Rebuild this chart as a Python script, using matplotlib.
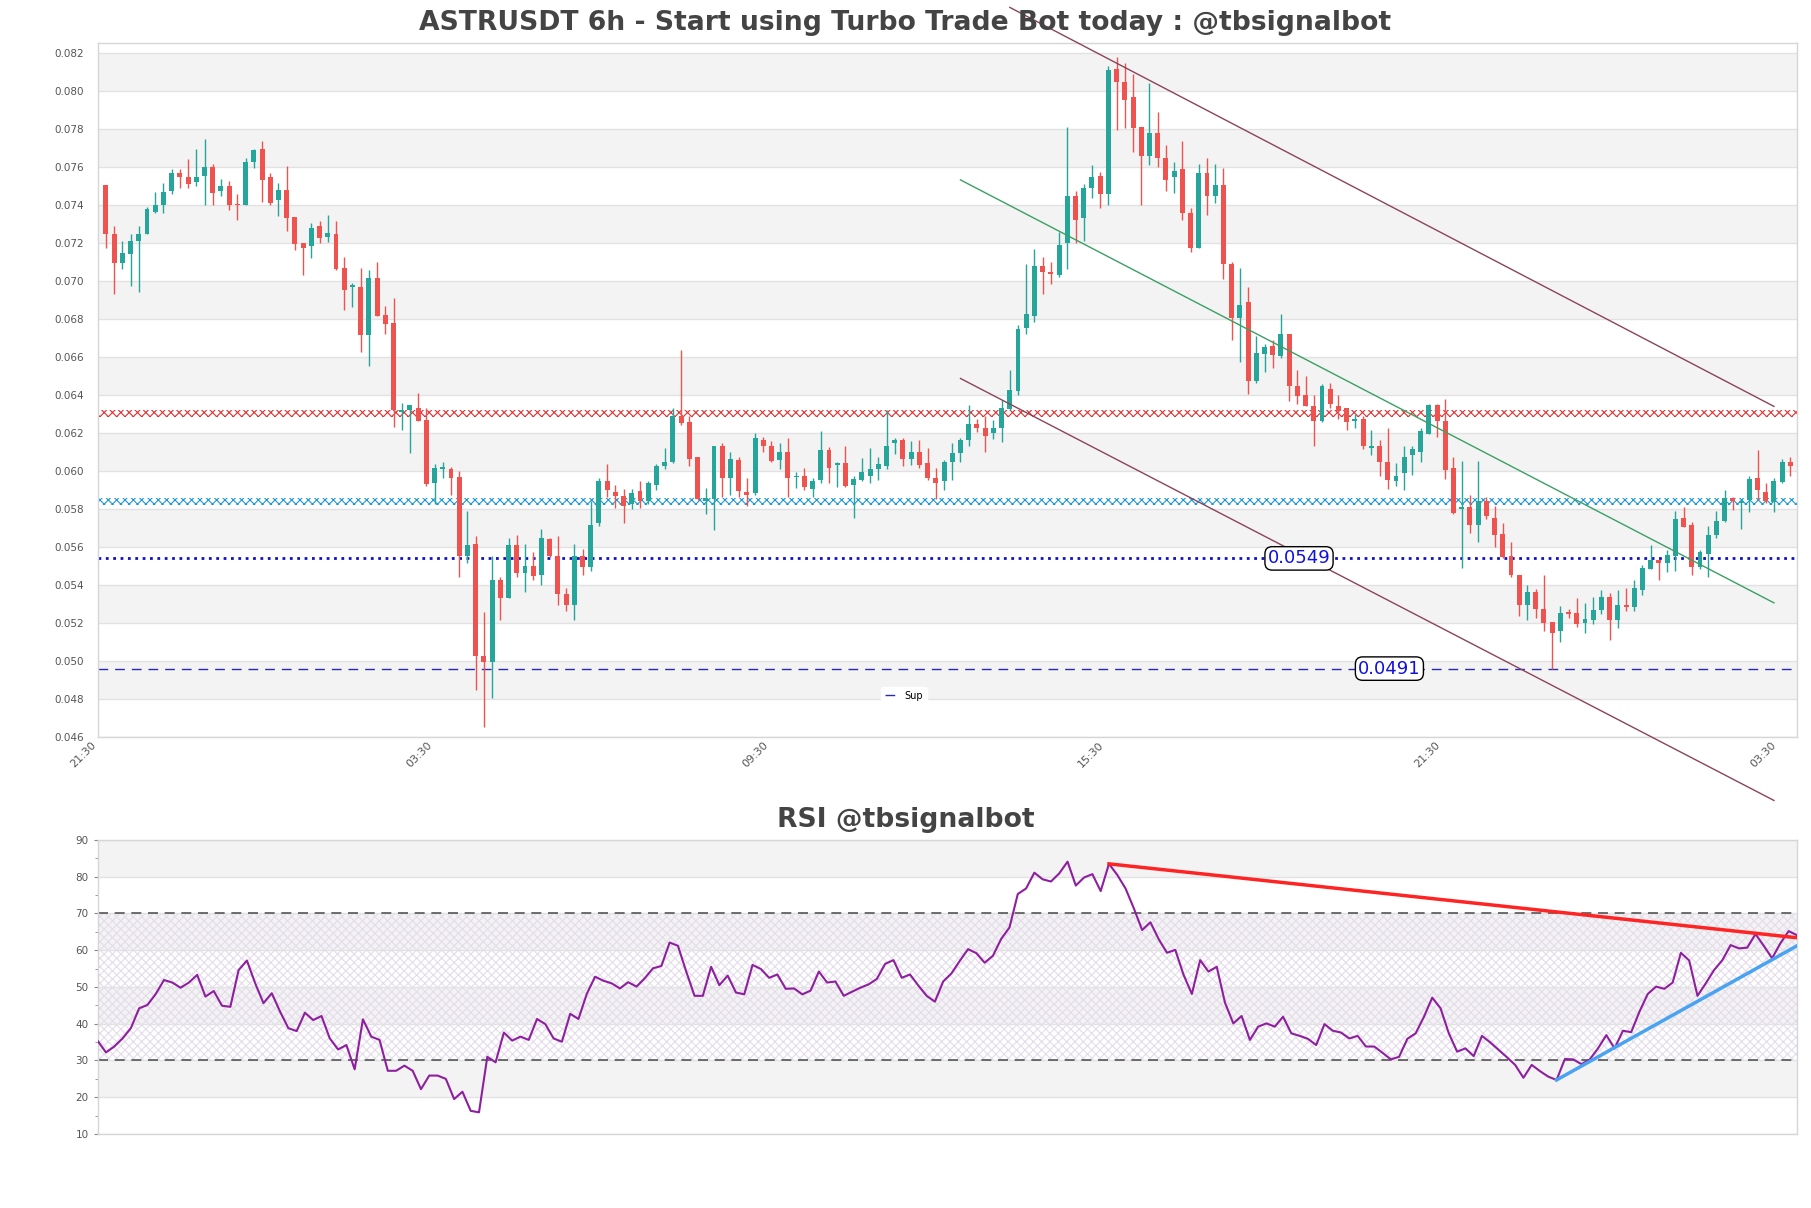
import matplotlib
matplotlib.use("Agg")
import matplotlib.pyplot as plt
import numpy as np

# ── Data ─────────────────────────────────────────────────────────────────────

opens = [
    0.07504, 0.07247, 0.07096, 0.07144, 0.07209, 0.07247, 0.07362, 0.07398, 0.07475, 0.07569,
    0.07546, 0.07522, 0.07553, 0.07600, 0.07475, 0.07501, 0.07405, 0.07398, 0.07624, 0.07694,
    0.07548, 0.07424, 0.07480, 0.07336, 0.07200, 0.07186, 0.07289, 0.07233, 0.07247, 0.07068,
    0.06967, 0.06967, 0.06718, 0.07016, 0.06821, 0.06779, 0.06308, 0.06322, 0.06334, 0.06268,
    0.05936, 0.06009, 0.06009, 0.05969, 0.05553, 0.05616, 0.05028, 0.04993, 0.05428, 0.05329,
    0.05609, 0.05464, 0.05499, 0.05452, 0.05640, 0.05553, 0.05353, 0.05294, 0.05553, 0.05494,
    0.05727, 0.05946, 0.05887, 0.05868, 0.05828, 0.05894, 0.05840, 0.05927, 0.06028, 0.06045,
    0.06292, 0.06259, 0.06075, 0.05840, 0.05852, 0.06134, 0.05962, 0.06056, 0.05887, 0.05882,
    0.06165, 0.06130, 0.06056, 0.06099, 0.05969, 0.05976, 0.05906, 0.05950, 0.06111, 0.06033,
    0.06040, 0.05927, 0.05950, 0.05974, 0.06009, 0.06028, 0.06146, 0.06165, 0.06064, 0.06099,
    0.06040, 0.05965, 0.05946, 0.06045, 0.06096, 0.06165, 0.06247, 0.06228, 0.06198, 0.06228,
    0.06327, 0.06421, 0.06750, 0.06816, 0.07080, 0.07047, 0.07033, 0.07198, 0.07447, 0.07334,
    0.07492, 0.07551, 0.07456, 0.08115, 0.08047, 0.07969, 0.07809, 0.07656, 0.07781, 0.07647,
    0.07546, 0.07588, 0.07358, 0.07174, 0.07569, 0.07447, 0.07506, 0.07092, 0.06805, 0.06887,
    0.06475, 0.06616, 0.06656, 0.06605, 0.06722, 0.06445, 0.06398, 0.06341, 0.06264, 0.06433,
    0.06341, 0.06329, 0.06264, 0.06275, 0.06122, 0.06129, 0.06047, 0.05946, 0.05988, 0.06082,
    0.06099, 0.06193, 0.06346, 0.06264, 0.06016, 0.05798, 0.05809, 0.05715, 0.05840, 0.05753,
    0.05668, 0.05550, 0.05452, 0.05294, 0.05365, 0.05275, 0.05205, 0.05158, 0.05256, 0.05252,
    0.05198, 0.05216, 0.05270, 0.05339, 0.05216, 0.05294, 0.05282, 0.05376, 0.05482, 0.05530,
    0.05518, 0.05553, 0.05753, 0.05718, 0.05494, 0.05562, 0.05664, 0.05739, 0.05856, 0.05833,
    0.05845, 0.05962, 0.05887, 0.05835, 0.05941, 0.06045,
]
highs = [
    0.07504, 0.07287, 0.07209, 0.07247, 0.07287, 0.07388, 0.07468, 0.07515, 0.07588, 0.07588,
    0.07640, 0.07696, 0.07748, 0.07616, 0.07536, 0.07527, 0.07459, 0.07649, 0.07696, 0.07739,
    0.07569, 0.07515, 0.07607, 0.07336, 0.07200, 0.07306, 0.07315, 0.07346, 0.07315, 0.07127,
    0.06988, 0.07068, 0.07059, 0.07099, 0.06868, 0.06911, 0.06358, 0.06346, 0.06409, 0.06332,
    0.06035, 0.06047, 0.06021, 0.05998, 0.05788, 0.05659, 0.05256, 0.05553, 0.05440, 0.05645,
    0.05664, 0.05616, 0.05574, 0.05696, 0.05645, 0.05659, 0.05386, 0.05616, 0.05588, 0.05840,
    0.05965, 0.06035, 0.05927, 0.05904, 0.05906, 0.05946, 0.05946, 0.06035, 0.06122, 0.06332,
    0.06635, 0.06292, 0.06075, 0.05911, 0.06134, 0.06146, 0.06099, 0.06075, 0.05965, 0.06198,
    0.06181, 0.06158, 0.06146, 0.06174, 0.05993, 0.06016, 0.05962, 0.06209, 0.06127, 0.06047,
    0.06134, 0.05974, 0.06070, 0.06122, 0.06075, 0.06322, 0.06174, 0.06174, 0.06158, 0.06165,
    0.06122, 0.06016, 0.06059, 0.06146, 0.06174, 0.06346, 0.06275, 0.06292, 0.06268, 0.06374,
    0.06534, 0.06769, 0.07087, 0.07169, 0.07127, 0.07099, 0.07259, 0.07809, 0.07475, 0.07511,
    0.07612, 0.07574, 0.08129, 0.08181, 0.08146, 0.08087, 0.07809, 0.08040, 0.07892, 0.07718,
    0.07628, 0.07739, 0.07386, 0.07616, 0.07645, 0.07616, 0.07593, 0.07099, 0.07068, 0.06969,
    0.06711, 0.06668, 0.06687, 0.06824, 0.06722, 0.06534, 0.06499, 0.06398, 0.06456, 0.06464,
    0.06402, 0.06334, 0.06299, 0.06287, 0.06216, 0.06165, 0.06228, 0.06040, 0.06134, 0.06129,
    0.06228, 0.06350, 0.06350, 0.06381, 0.06075, 0.06052, 0.05875, 0.06052, 0.05864, 0.05816,
    0.05727, 0.05628, 0.05452, 0.05400, 0.05381, 0.05452, 0.05205, 0.05287, 0.05275, 0.05329,
    0.05306, 0.05339, 0.05376, 0.05358, 0.05376, 0.05386, 0.05428, 0.05504, 0.05609, 0.05530,
    0.05586, 0.05788, 0.05809, 0.05734, 0.05586, 0.05711, 0.05788, 0.05899, 0.05864, 0.05840,
    0.05976, 0.06111, 0.05939, 0.05962, 0.06064, 0.06075,
]
lows = [
    0.07176, 0.06934, 0.07064, 0.06976, 0.06944, 0.07247, 0.07358, 0.07358, 0.07456, 0.07487,
    0.07487, 0.07499, 0.07402, 0.07398, 0.07445, 0.07376, 0.07322, 0.07398, 0.07595, 0.07414,
    0.07398, 0.07344, 0.07264, 0.07165, 0.07033, 0.07122, 0.07198, 0.07205, 0.07056, 0.06845,
    0.06864, 0.06624, 0.06553, 0.06816, 0.06722, 0.06233, 0.06216, 0.06096, 0.06264, 0.05922,
    0.05828, 0.05965, 0.05875, 0.05440, 0.05518, 0.04847, 0.04652, 0.04805, 0.05216, 0.05329,
    0.05440, 0.05365, 0.05428, 0.05400, 0.05546, 0.05294, 0.05264, 0.05216, 0.05452, 0.05475,
    0.05711, 0.05864, 0.05805, 0.05727, 0.05800, 0.05805, 0.05828, 0.05899, 0.06009, 0.06040,
    0.06240, 0.06028, 0.05847, 0.05774, 0.05687, 0.05864, 0.05875, 0.05864, 0.05816, 0.05875,
    0.06099, 0.06045, 0.06012, 0.05864, 0.05911, 0.05899, 0.05864, 0.05939, 0.05939, 0.05915,
    0.05915, 0.05753, 0.05946, 0.05939, 0.05953, 0.06012, 0.06087, 0.06028, 0.06033, 0.06016,
    0.05953, 0.05852, 0.05899, 0.05953, 0.06045, 0.06134, 0.06205, 0.06099, 0.06170, 0.06150,
    0.06322, 0.06398, 0.06722, 0.06786, 0.06934, 0.06986, 0.07021, 0.07064, 0.07198, 0.07212,
    0.07435, 0.07386, 0.07400, 0.07793, 0.07805, 0.07680, 0.07400, 0.07612, 0.07598, 0.07475,
    0.07464, 0.07322, 0.07155, 0.07174, 0.07346, 0.07409, 0.07012, 0.06687, 0.06576, 0.06405,
    0.06464, 0.06522, 0.06541, 0.06593, 0.06370, 0.06350, 0.06341, 0.06129, 0.06256, 0.06334,
    0.06275, 0.06216, 0.06228, 0.06118, 0.06082, 0.05974, 0.05906, 0.05922, 0.05899, 0.05981,
    0.06045, 0.06193, 0.06181, 0.05958, 0.05776, 0.05487, 0.05675, 0.05628, 0.05746, 0.05598,
    0.05541, 0.05440, 0.05235, 0.05216, 0.05224, 0.05158, 0.04958, 0.05099, 0.05224, 0.05181,
    0.05146, 0.05193, 0.05247, 0.05111, 0.05174, 0.05264, 0.05264, 0.05346, 0.05482, 0.05424,
    0.05471, 0.05475, 0.05706, 0.05452, 0.05482, 0.05440, 0.05645, 0.05734, 0.05793, 0.05694,
    0.05786, 0.05845, 0.05833, 0.05786, 0.05939, 0.05974,
]
closes = [
    0.07245, 0.07096, 0.07146, 0.07209, 0.07247, 0.07379, 0.07398, 0.07468, 0.07569, 0.07546,
    0.07511, 0.07546, 0.07600, 0.07464, 0.07501, 0.07400, 0.07398, 0.07626, 0.07690, 0.07534,
    0.07412, 0.07480, 0.07334, 0.07195, 0.07176, 0.07280, 0.07224, 0.07250, 0.07064, 0.06955,
    0.06981, 0.06718, 0.07016, 0.06816, 0.06776, 0.06322, 0.06322, 0.06346, 0.06264, 0.05932,
    0.06016, 0.06021, 0.05962, 0.05553, 0.05609, 0.05028, 0.04993, 0.05428, 0.05329, 0.05609,
    0.05464, 0.05499, 0.05447, 0.05645, 0.05553, 0.05353, 0.05294, 0.05553, 0.05494, 0.05718,
    0.05946, 0.05899, 0.05868, 0.05816, 0.05882, 0.05840, 0.05939, 0.06028, 0.06045, 0.06292,
    0.06252, 0.06064, 0.05852, 0.05856, 0.06134, 0.05962, 0.06064, 0.05894, 0.05875, 0.06174,
    0.06134, 0.06052, 0.06099, 0.05962, 0.05976, 0.05915, 0.05946, 0.06111, 0.06016, 0.06040,
    0.05922, 0.05958, 0.05993, 0.06012, 0.06035, 0.06134, 0.06165, 0.06064, 0.06099, 0.06033,
    0.05962, 0.05939, 0.06047, 0.06096, 0.06165, 0.06247, 0.06228, 0.06186, 0.06228, 0.06334,
    0.06424, 0.06746, 0.06824, 0.07080, 0.07045, 0.07035, 0.07188, 0.07447, 0.07322, 0.07487,
    0.07546, 0.07456, 0.08111, 0.08045, 0.07953, 0.07805, 0.07656, 0.07781, 0.07645, 0.07534,
    0.07579, 0.07358, 0.07174, 0.07569, 0.07447, 0.07506, 0.07087, 0.06805, 0.06875, 0.06475,
    0.06621, 0.06652, 0.06609, 0.06722, 0.06445, 0.06393, 0.06341, 0.06264, 0.06447, 0.06350,
    0.06318, 0.06256, 0.06275, 0.06129, 0.06134, 0.06045, 0.05953, 0.05976, 0.06075, 0.06115,
    0.06212, 0.06346, 0.06264, 0.06005, 0.05781, 0.05809, 0.05715, 0.05840, 0.05762, 0.05664,
    0.05546, 0.05452, 0.05294, 0.05365, 0.05275, 0.05198, 0.05146, 0.05252, 0.05247, 0.05193,
    0.05221, 0.05268, 0.05339, 0.05216, 0.05294, 0.05282, 0.05386, 0.05487, 0.05534, 0.05518,
    0.05558, 0.05746, 0.05706, 0.05494, 0.05574, 0.05664, 0.05739, 0.05856, 0.05840, 0.05840,
    0.05958, 0.05899, 0.05840, 0.05946, 0.06045, 0.06028,
]

rsi = [
    35.3, 32.2, 33.8, 36.0, 38.8, 44.2, 45.1, 48.1, 51.9, 51.2,
    49.8, 51.2, 53.3, 47.4, 48.9, 44.9, 44.6, 54.6, 57.2, 51.0,
    45.6, 48.3, 43.3, 38.8, 38.0, 43.0, 41.0, 42.1, 36.0, 33.0,
    34.2, 27.6, 41.2, 36.5, 35.6, 27.2, 27.2, 28.6, 27.2, 22.2,
    25.9, 25.9, 25.0, 19.5, 21.5, 16.3, 15.9, 31.0, 29.5, 37.6,
    35.4, 36.5, 35.6, 41.3, 39.9, 36.0, 35.1, 42.7, 41.3, 48.1,
    52.8, 51.7, 51.0, 49.6, 51.3, 50.1, 52.4, 55.1, 55.7, 62.1,
    61.2, 54.2, 47.6, 47.6, 55.5, 50.5, 53.1, 48.5, 48.0, 56.0,
    54.9, 52.5, 53.4, 49.5, 49.6, 48.0, 49.0, 54.2, 51.2, 51.5,
    47.6, 48.7, 49.8, 50.7, 52.2, 56.3, 57.3, 52.5, 53.4, 50.4,
    47.6, 46.0, 51.5, 53.7, 57.1, 60.3, 59.2, 56.6, 58.5, 63.1,
    66.2, 75.3, 76.8, 81.1, 79.3, 78.7, 80.9, 84.1, 77.6, 79.8,
    80.7, 76.1, 83.5, 80.5, 76.8, 71.4, 65.5, 67.6, 63.0, 59.3,
    60.1, 53.3, 48.1, 57.3, 54.2, 55.5, 45.7, 40.1, 42.1, 35.6,
    39.2, 40.1, 39.2, 41.9, 37.4, 36.7, 35.9, 34.2, 39.9, 38.1,
    37.6, 36.0, 36.7, 33.8, 33.8, 32.1, 30.3, 31.0, 35.9, 37.4,
    41.9, 47.1, 44.2, 37.4, 32.4, 33.3, 31.2, 36.7, 34.9, 32.9,
    30.9, 28.8, 25.3, 28.8, 27.1, 25.6, 24.7, 30.4, 30.3, 29.0,
    30.3, 33.3, 36.9, 33.3, 38.1, 37.7, 43.3, 48.1, 50.1, 49.5,
    51.2, 59.3, 57.2, 47.6, 51.0, 54.6, 57.3, 61.4, 60.5, 60.7,
    64.4, 61.2, 57.8, 61.9, 65.2, 64.1,
]

TIME_LABELS = ["21:30", "03:30", "09:30", "15:30", "21:30", "03:30"]

# zones / levels
RES_ZONE = (0.06285, 0.06323)
SUP_ZONE = (0.05820, 0.05856)
LEVEL_MID, LEVEL_MID_TXT = 0.0554, "0.0549"
LEVEL_SUP, LEVEL_SUP_TXT = 0.0496, "0.0491"

# channel lines (candle index, price)
CH_UPPER_X, CH_UPPER_Y = [110, 203], [0.0844, 0.0634]
CH_LOWER_X, CH_LOWER_Y = [104, 203], [0.06487, 0.04266]
CH_MID_X, CH_MID_Y = [104, 203], [0.07532, 0.05306]

# RSI trend lines
RSI_RES_X, RSI_RES_Y = [122, 205], [83.5, 63.4]
RSI_SUP_X, RSI_SUP_Y = [176, 205], [24.7, 61.2]

GREEN = "#26a69a"
RED = "#ef5350"
TXT = "#444444"
GRID = "#e2e2e2"
BAND = "#f3f3f3"

plt.rcParams["hatch.linewidth"] = 0.8


def band_bg(ax, lo, hi, step):
    ticks = np.arange(lo, hi + step / 2, step)
    for k in range(len(ticks) - 1):
        if (len(ticks) - 2 - k) % 2 == 0:
            ax.axhspan(ticks[k], ticks[k + 1], color=BAND, lw=0, zorder=0)
    ax.set_yticks(ticks)
    ax.grid(axis="y", color=GRID, lw=1, zorder=0.5)


def style_spines(ax):
    for s in ax.spines.values():
        s.set_color("#d6d6d6")
        s.set_linewidth(1)


def main():
    n = len(closes)
    x = np.arange(n)
    o = np.array(opens); h = np.array(highs); l = np.array(lows); c = np.array(closes)
    up = c >= o
    cols = np.where(up, GREEN, RED)

    fig = plt.figure(figsize=(18.11, 12.08), dpi=100)

    # ── Price panel ───────────────────────────────────────────────────────────
    ax = fig.add_axes([0.05395, 0.3899, 0.9383, 0.5741])
    band_bg(ax, 0.046, 0.082, 0.002)
    ax.set_ylim(0.046, 0.0825)
    ax.set_xlim(-0.9, 205.8)

    ax.vlines(x, l, h, colors=cols, lw=1.0, zorder=3)
    body = np.maximum(np.abs(c - o), 0.00003)
    ax.bar(x, body, bottom=np.minimum(o, c), width=0.6, color=cols, lw=0, zorder=4)

    ax.axhspan(*RES_ZONE, fill=False, hatch="xxxx", edgecolor="#e03030", lw=0, zorder=2)
    ax.axhspan(*SUP_ZONE, fill=False, hatch="xxxx", edgecolor="#1e96d6", lw=0, zorder=2)

    ax.axhline(LEVEL_MID, color="#1010c8", ls=":", lw=2, zorder=2)
    ax.axhline(LEVEL_SUP, color="#2a2ab0", ls=(0, (7, 5)), lw=1, zorder=2, label="Sup")
    box = dict(boxstyle="round,pad=0.15,rounding_size=0.4", fc="white", ec="black", lw=1)
    ax.text(145.2, LEVEL_MID, LEVEL_MID_TXT, color="#1010e0", fontsize=13,
            ha="center", va="center", bbox=box, zorder=6)
    ax.text(156.2, LEVEL_SUP, LEVEL_SUP_TXT, color="#1010e0", fontsize=13,
            ha="center", va="center", bbox=box, zorder=6)

    ax.plot(CH_UPPER_X, CH_UPPER_Y, color="#8b4459", lw=1, clip_on=False, zorder=5)
    ax.plot(CH_LOWER_X, CH_LOWER_Y, color="#8b4459", lw=1, clip_on=False, zorder=5)
    ax.plot(CH_MID_X, CH_MID_Y, color="#3aa064", lw=1, clip_on=False, zorder=5)

    ax.legend(loc="lower left", bbox_to_anchor=(0.458, 0.04), fontsize=7,
              frameon=True, framealpha=1, edgecolor="white", handlelength=1.2)

    ax.yaxis.set_major_formatter(plt.FuncFormatter(lambda v, _: f"{v:.3f}"))
    ax.tick_params(axis="y", length=0, pad=10, labelsize=7.5, labelcolor="#555555")
    xt = -1.0 + 40.9 * np.arange(len(TIME_LABELS))
    ax.set_xticks(xt)
    ax.set_xticklabels(TIME_LABELS, rotation=45, ha="right", fontsize=8, color="#555555")
    ax.tick_params(axis="x", length=0, pad=2)
    style_spines(ax)

    fig.text(0.5, 0.981, "ASTRUSDT 6h - Start using Turbo Trade Bot today : @tbsignalbot",
             ha="center", va="center", fontsize=19.2, fontweight="bold", color=TXT)

    # ── RSI panel ─────────────────────────────────────────────────────────────
    ar = fig.add_axes([0.05395, 0.06126, 0.9383, 0.2434])
    band_bg(ar, 10, 90, 10)
    ar.set_ylim(10, 90)
    ar.set_xlim(0, n - 1)
    ar.fill_between([0, n - 1], 30, 70, facecolor="none", hatch="xxxx",
                    edgecolor="#e4dcea", lw=0, zorder=1)
    ar.axhline(70, color="#555555", ls=(0, (6, 4)), lw=1.2, zorder=2)
    ar.axhline(30, color="#555555", ls=(0, (6, 4)), lw=1.2, zorder=2)
    ar.plot(x, rsi, color="#8e1f9e", lw=1.5, zorder=3)
    ar.plot(RSI_RES_X, RSI_RES_Y, color="#ff2424", lw=2.5, zorder=4)
    ar.plot(RSI_SUP_X, RSI_SUP_Y, color="#4aa3f0", lw=2.5, zorder=4)
    ar.set_yticks(np.arange(15, 90, 10), minor=True)
    ar.tick_params(axis="y", which="both", labelsize=7.5, labelcolor="#555555",
                   color="#888888", length=3)
    ar.tick_params(axis="y", which="minor", length=2)
    ar.set_xticks([])
    style_spines(ar)

    fig.text(0.5, 0.321, "RSI @tbsignalbot", ha="center", va="center",
             fontsize=19.2, fontweight="bold", color=TXT)

    fig.savefig("out.png", dpi=100)


if __name__ == "__main__":
    main()
